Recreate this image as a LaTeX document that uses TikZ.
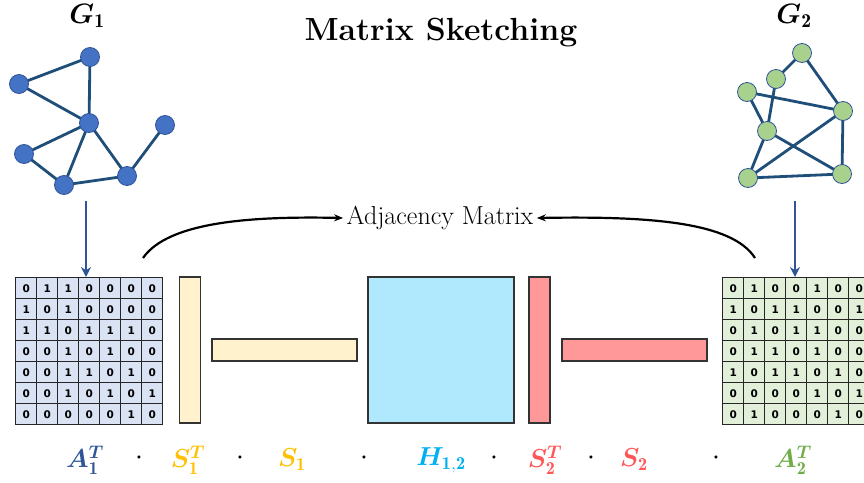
\RequirePackage{fix-cm}
\documentclass[tikz,border=0pt]{standalone}
\usepackage{amsmath}
\usepackage{bm}
\usepackage{fontspec}
\newfontfamily\cellfont{DejaVu Sans}
\usetikzlibrary{matrix, arrows.meta}

\definecolor{edgeblue}{HTML}{1F4E79}
\definecolor{nodeblue}{HTML}{4472C4}
\definecolor{nodegreen}{HTML}{A9D18E}
\definecolor{arrowblue}{HTML}{2F5597}
\definecolor{mblue}{HTML}{DAE3F3}
\definecolor{mgreen}{HTML}{E2F0D9}
\definecolor{skyellow}{HTML}{FFF2CC}
\definecolor{skcyan}{HTML}{B0E9FD}
\definecolor{skred}{HTML}{FF9999}
\definecolor{labA}{HTML}{2F5597}
\definecolor{labS}{HTML}{FFC000}
\definecolor{labH}{HTML}{00B0F0}
\definecolor{labR}{HTML}{FF5757}
\definecolor{labG}{HTML}{70AD47}

\begin{document}
\begin{tikzpicture}[
  x=1pt, y=-1pt,
  >=Stealth,
  vtx/.style={circle, draw=arrowblue, line width=0.8pt, minimum size=19pt, inner sep=0pt},
  gedge/.style={edgeblue, line width=2.8pt},
  cell/.style={draw=black!85, line width=1pt, minimum size=21pt, inner sep=0pt,
    font=\cellfont\bfseries\fontsize{10.5}{10.5}\selectfont},
  sk/.style={draw=black!80, line width=1.2pt, inner sep=0pt},
  lab/.style={font=\fontsize{26}{26}\selectfont},
  dotlab/.style={font=\fontsize{20}{20}\selectfont},
  down/.style={->, arrowblue, line width=2.6pt, >={Stealth[length=10pt, width=10pt]}},
  curve/.style={->, black, line width=2.2pt, >={Stealth[length=9pt, width=7pt]}},
]
\clip (0,0) rectangle (864,482);

% --- titles ---
\node[font=\bfseries\fontsize{32}{34}\selectfont] (title) at (441,33) {Matrix Sketching};
\node[font=\fontsize{28}{28}\selectfont] (g1lab) at (87,16) {$\bm{G}_{\mathbf{1}}$};
\node[font=\fontsize{28}{28}\selectfont] (g2lab) at (794,16) {$\bm{G}_{\mathbf{2}}$};

% --- graph G1 ---
\draw[gedge] (90,57) -- (19,84) -- (89,123) -- (90,57);
\draw[gedge] (89,123) -- (24,154) -- (64,185) -- (89,123) -- (127,176) -- (64,185);
\draw[gedge] (127,176) -- (165,125);
\foreach \p/\n in {{(90,57)}/a, {(19,84)}/b, {(89,123)}/c, {(165,125)}/d,
                   {(24,154)}/e, {(64,185)}/f, {(127,176)}/g}
  \node[vtx, fill=nodeblue] (g1\n) at \p {};

% --- graph G2 ---
\draw[gedge] (802,53) -- (776,79) -- (767,131) -- (748,178) -- (842,174) -- (843,111) -- (802,53);
\draw[gedge] (747,92) -- (767,131) -- (842,174);
\draw[gedge] (747,92) -- (843,111) -- (748,178);
\foreach \p/\n in {{(802,53)}/a, {(776,79)}/b, {(747,92)}/c, {(843,111)}/d,
                   {(767,131)}/e, {(748,178)}/f, {(842,174)}/g}
  \node[vtx, fill=nodegreen] (g2\n) at \p {};

% --- adjacency matrices ---
\matrix (A1) [matrix of nodes, anchor=north west, inner sep=0pt, nodes={cell, fill=mblue},
  column sep=-1pt, row sep=-1pt] at (15,277) {
0 & 1 & 1 & 0 & 0 & 0 & 0 \\
1 & 0 & 1 & 0 & 0 & 0 & 0 \\
1 & 1 & 0 & 1 & 1 & 1 & 0 \\
0 & 0 & 1 & 0 & 1 & 0 & 0 \\
0 & 0 & 1 & 1 & 0 & 1 & 0 \\
0 & 0 & 1 & 0 & 1 & 0 & 1 \\
0 & 0 & 0 & 0 & 0 & 1 & 0 \\
};
\matrix (A2) [matrix of nodes, anchor=north west, inner sep=0pt, nodes={cell, fill=mgreen},
  column sep=-1pt, row sep=-1pt] at (722,277) {
0 & 1 & 0 & 0 & 1 & 0 & 0 \\
1 & 0 & 1 & 1 & 0 & 0 & 1 \\
0 & 1 & 0 & 1 & 1 & 0 & 0 \\
0 & 1 & 1 & 0 & 1 & 0 & 0 \\
1 & 0 & 1 & 1 & 0 & 1 & 0 \\
0 & 0 & 0 & 0 & 1 & 0 & 1 \\
0 & 1 & 0 & 0 & 0 & 1 & 0 \\
};

% --- sketches ---
\node[sk, fill=skyellow, minimum width=21pt, minimum height=146pt] (S1T) at (190,350) {};
\node[sk, fill=skyellow, minimum width=145pt, minimum height=22pt] (S1) at (284.5,350) {};
\node[sk, fill=skcyan, minimum width=146pt, minimum height=146pt] (H) at (441,350) {};
\node[sk, fill=skred, minimum width=21pt, minimum height=146pt] (S2T) at (539.5,350) {};
\node[sk, fill=skred, minimum width=145pt, minimum height=22pt] (S2) at (634.5,350) {};

% --- arrows ---
\coordinate (g1b) at (86,201);
\coordinate (g2b) at (795,201);
\draw[down] (g1b) -- (g1b |- A1.north);
\draw[down] (g2b) -- (g2b |- A2.north);

\node[font=\fontsize{26}{26}\selectfont] (adj) at (440,218) {Adjacency Matrix};
\coordinate (lft) at (143,258);
\coordinate (rgt) at (755,258);
\draw[curve] (lft) .. controls (168,222) and (250,216) .. (adj.west);
\draw[curve] (rgt) .. controls (732,222) and (650,216) .. (adj.east);

% --- product labels ---
\node[lab, text=labA] (lA1) at (85,460) {$\bm{A}_{\mathbf{1}}^{\bm{T}}$};
\node[lab, text=labS] (lS1T) at (188,460) {$\bm{S}_{\mathbf{1}}^{\bm{T}}$};
\node[lab, text=labS] (lS1) at (292,460) {$\bm{S}_{\mathbf{1}}$};
\node[lab, text=labH] (lH) at (441,460) {$\bm{H}_{\mathbf{1,2}}$};
\node[lab, text=labR] (lS2T) at (545,460) {$\bm{S}_{\mathbf{2}}^{\bm{T}}$};
\node[lab, text=labR] (lS2) at (634,460) {$\bm{S}_{\mathbf{2}}$};
\node[lab, text=labG] (lA2) at (793,460) {$\bm{A}_{\mathbf{2}}^{\bm{T}}$};
\foreach \x/\n in {139/1, 240/2, 364/3, 494/4, 591/5, 716/6}
  \node[dotlab] (dot\n) at (\x,458) {$\bm{\cdot}$};
\end{tikzpicture}
\end{document}
